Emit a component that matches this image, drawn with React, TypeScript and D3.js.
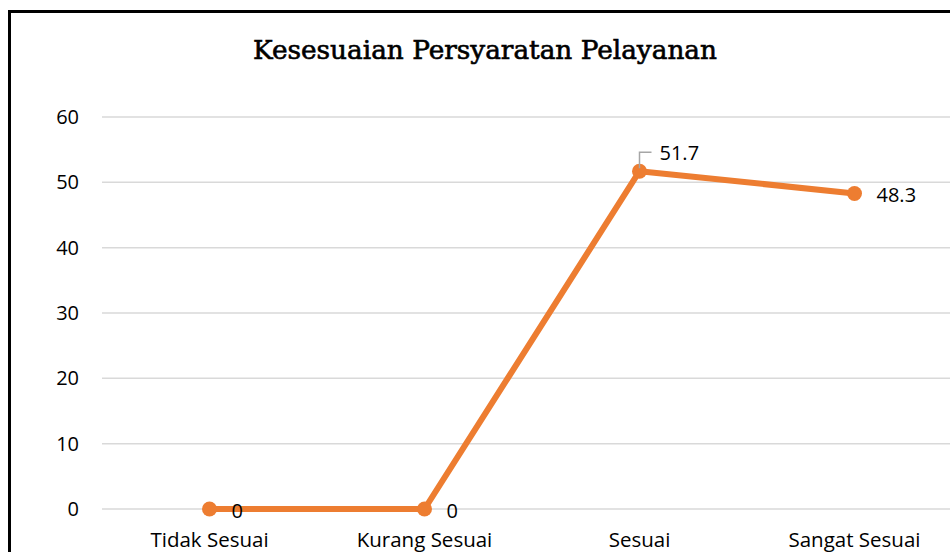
import React from "react";
import { scaleBand, scaleLinear, line } from "d3";

const categories = ["Tidak Sesuai", "Kurang Sesuai", "Sesuai", "Sangat Sesuai"];
const values = [0, 0, 51.7, 48.3];
const yTicks = [0, 10, 20, 30, 40, 50, 60];

const W = 950;
const H = 552;
const plot = { left: 102, right: 962, top: 117, bottom: 509 };
const orange = "#ED7D31";
const labelFont = "'Open Sans', sans-serif";
const labelSize = 20;

const App = () => {
  const x = scaleBand<string>()
    .domain(categories)
    .range([plot.left, plot.right]);
  const y = scaleLinear().domain([0, 60]).range([plot.bottom, plot.top]);

  const cx = (c: string) => (x(c) ?? 0) + x.bandwidth() / 2;
  const pts = categories.map((c, i) => ({ c, v: values[i] }));

  const path = line<{ c: string; v: number }>()
    .x((d) => cx(d.c))
    .y((d) => y(d.v))(pts);

  return (
    <div style={{ position: "absolute", left: 0, top: 0 }}>
      <svg width={W} height={H} style={{ display: "block", background: "#fff" }}>
        {/* chart frame, cut off at right and bottom */}
        <rect x={9.5} y={11.5} width={1000} height={600} fill="none" stroke="#000" strokeWidth={3} />

        <text
          x={485}
          y={58.5}
          textAnchor="middle"
          fontFamily="'DejaVu Serif', serif"
          fontSize={25.5}
          textLength={464}
          lengthAdjust="spacingAndGlyphs"
          fill="#000"
          stroke="#000"
          strokeWidth={0.6}
        >
          Kesesuaian Persyaratan Pelayanan
        </text>

        {yTicks.map((t) => (
          <g key={t}>
            <line x1={plot.left} x2={W} y1={y(t)} y2={y(t)} stroke="#d9d9d9" strokeWidth={1.5} />
            <text
              x={79}
              y={y(t)}
              dy="0.35em"
              textAnchor="end"
              fontFamily={labelFont}
              fontSize={labelSize}
              fill="#000"
            >
              {t}
            </text>
          </g>
        ))}

        {categories.map((c) => (
          <text
            key={c}
            x={cx(c)}
            y={547}
            textAnchor="middle"
            fontFamily={labelFont}
            fontSize={20.5}
            fill="#000"
          >
            {c}
          </text>
        ))}

        <path d={path ?? ""} fill="none" stroke={orange} strokeWidth={6} strokeLinejoin="round" />
        {pts.map((d) => (
          <circle key={d.c} cx={cx(d.c)} cy={y(d.v)} r={7.5} fill={orange} />
        ))}

        {/* leader line for 51.7 */}
        <polyline
          points={`${cx("Sesuai")},${y(51.7) - 3} ${cx("Sesuai")},${y(51.7) - 19} ${cx("Sesuai") + 12},${y(51.7) - 19}`}
          fill="none"
          stroke="#a6a6a6"
          strokeWidth={1.5}
        />

        {pts.map((d) => {
          const isPeak = d.c === "Sesuai";
          return (
            <text
              key={"l" + d.c}
              x={isPeak ? cx(d.c) + 20 : cx(d.c) + 22}
              y={isPeak ? y(d.v) - 18 : y(d.v) + 2}
              dy="0.35em"
              fontFamily={labelFont}
              fontSize={labelSize}
              fill="#000"
            >
              {d.v}
            </text>
          );
        })}
      </svg>
    </div>
  );
};

export default App;
